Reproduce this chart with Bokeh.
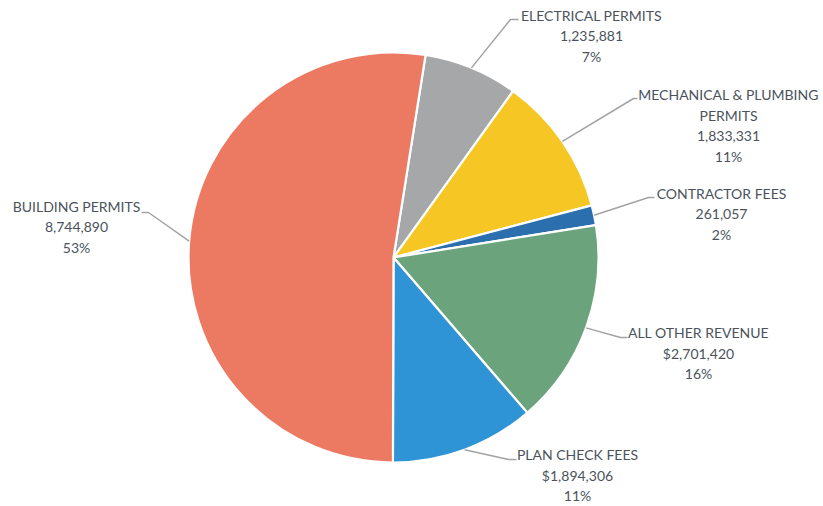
import numpy as np
from bokeh.plotting import figure
from bokeh.models import Range1d
from bokeh.core.properties import value
from bokeh.embed import file_html
from bokeh.resources import INLINE

# ---- data (clockwise from the top) ----
categories = ["ELECTRICAL PERMITS", "MECHANICAL & PLUMBING\nPERMITS", "CONTRACTOR FEES",
              "ALL OTHER REVENUE", "PLAN CHECK FEES", "BUILDING PERMITS"]
values = [1235881, 1833331, 261057, 2701420, 1894306, 8744890]
amount_labels = ["1,235,881", "1,833,331", "261,057", "$2,701,420", "$1,894,306", "8,744,890"]
percent_labels = ["7%", "11%", "2%", "16%", "11%", "53%"]
colors = ["#A6A7A9", "#F5C624", "#2C6FAE", "#6BA37C", "#2E94D6", "#EC7A62"]

# ---- layout (screen pixels) ----
CX, CY, R = 393, 257, 205
TOP_DEG = 81.0
W, H = 823, 504
# label centre x, first line y, leader elbow, leader end
label_layout = [
    (591, 15, (510, 19), (518, 19)),
    (728, 94, (633, 98), (637, 98)),
    (721, 193, (648, 197), (654, 197)),
    (698, 332, (620, 337), (627, 337)),
    (577, 454, (508, 459), (516, 459)),
    (76, 206, (148, 212), (141, 212)),
]
LINE_STEP = 20.5


def dx(px):
    return px - CX


def dy(py):
    return CY - py


p = figure(width=W, height=H, x_range=Range1d(dx(0), dx(W)), y_range=Range1d(dy(H), dy(0)),
           output_backend="svg", toolbar_location=None, min_border=0)
p.axis.visible = False
p.grid.visible = False
p.outline_line_color = None
p.background_fill_color = "white"
p.border_fill_color = "white"

vals = np.array(values, dtype=float)
total = vals.sum()
cum_after = np.cumsum(vals)
cum_before = cum_after - vals
top = np.radians(TOP_DEG)
end_angles = top - 2 * np.pi * cum_before / total
start_angles = top - 2 * np.pi * cum_after / total
mid_angles = (start_angles + end_angles) / 2

p.wedge(x=0, y=0, radius=R, start_angle=list(start_angles), end_angle=list(end_angles),
        fill_color=colors, line_color="white", line_width=2.2)

# leader lines
xs, ys = [], []
for (lx, ly, elbow, end), a in zip(label_layout, mid_angles):
    xs.append([R * np.cos(a), dx(elbow[0]), dx(end[0])])
    ys.append([R * np.sin(a), dy(elbow[1]), dy(end[1])])
p.multi_line(xs=xs, ys=ys, line_color="#a3a3a3", line_width=1.5)

# labels
tx, ty, tt = [], [], []
for cat, amt, pct, (lx, ly, elbow, end) in zip(categories, amount_labels, percent_labels, label_layout):
    lines = cat.split("\n") + [amt, pct]
    for i, s in enumerate(lines):
        tx.append(dx(lx))
        ty.append(dy(ly + i * LINE_STEP))
        tt.append(s)
p.text(x=tx, y=ty, text=tt, text_align="center", text_baseline="middle",
       text_font=value("Lato"), text_font_size="14px", text_color="#4a535c")

open("out.html", "w").write(file_html(p, INLINE))
